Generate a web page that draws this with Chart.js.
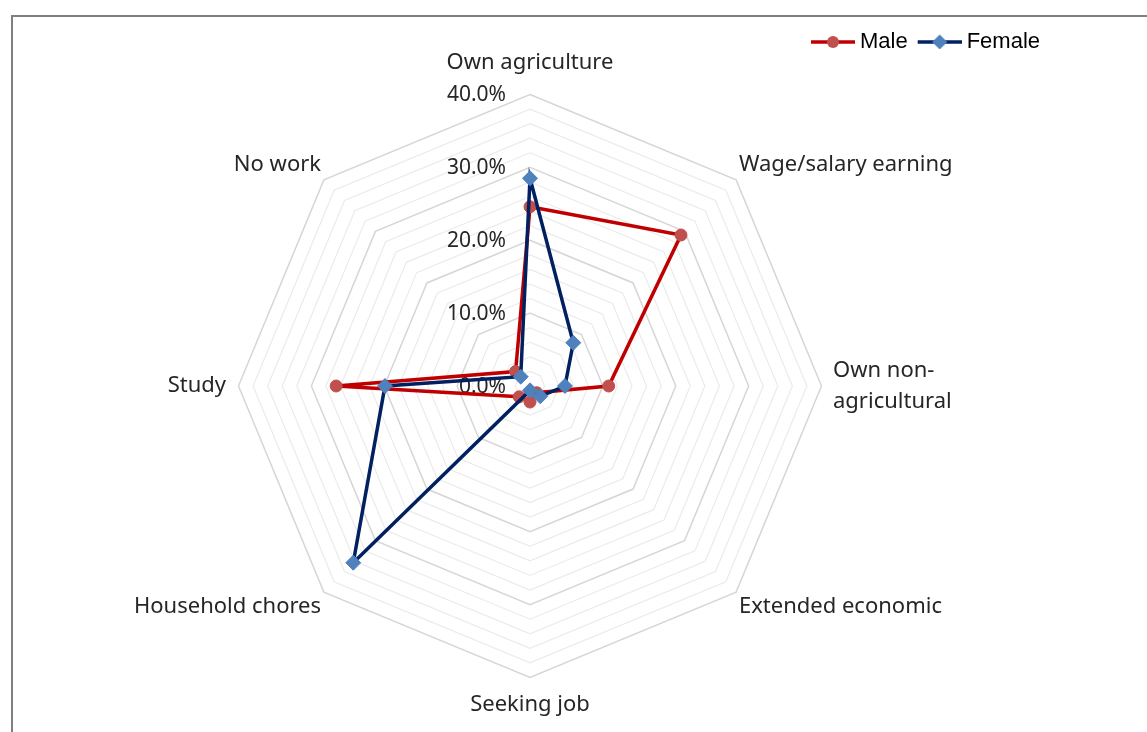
<!DOCTYPE html>
<html>
<head>
<meta charset="utf-8">
<script src="https://cdn.jsdelivr.net/npm/chart.js@4.4.1/dist/chart.umd.min.js"></script>
<style>
    body { margin: 0; background: #fff; }
    #frame { position: absolute; left: 11px; top: 15px; width: 1200px; height: 800px; border: 2px solid #7f7f7f; }
    #wrap { position: absolute; left: 10px; top: 21px; width: 1040px; height: 698px; }
</style>
</head>
<body>
<div id="frame"></div>
<div id="wrap"><canvas id="myChart"></canvas></div>
<script>
// activity shares by sex, in percent
const categories = ['Own agriculture', 'Wage/salary earning', ['Own non-', 'agricultural'], 'Extended economic',
    'Seeking job', 'Household chores', 'Study', 'No work'];
const male = [24.6, 29.3, 10.8, 1.3, 2.2, 2.1, 26.6, 2.8];
const female = [28.5, 8.4, 4.8, 2.0, 0.6, 34.3, 19.9, 1.8];
const tickLabels = [0, 10, 20, 30, 40];

// distance of each category label from the outer ring
const labelPad = [19.5, 4, 11.5, 4, 15.5, 4, 12.5, 4];

const labelFont = '"Noto Sans", sans-serif';
const textColor = '#262626';

// little line + marker pictures for the legend
function legendMarker(lineColor, fillColor, shape) {
    let c = document.createElement('canvas');
    c.width = 50;
    c.height = 18;
    let g = c.getContext('2d');
    g.strokeStyle = lineColor;
    g.lineWidth = 3.5;
    g.beginPath();
    g.moveTo(6, 9);
    g.lineTo(50, 9);
    g.stroke();
    g.fillStyle = fillColor;
    g.beginPath();
    if (shape == 'circle') {
        g.arc(28, 9, 6, 0, Math.PI * 2);
    } else {
        g.moveTo(28, 1.5);
        g.lineTo(35.5, 9);
        g.lineTo(28, 16.5);
        g.lineTo(20.5, 9);
        g.closePath();
    }
    g.fill();
    return c;
}
const markers = [
    legendMarker('#c00000', '#c0504d', 'circle'),
    legendMarker('#002060', '#4f81bd', 'diamond')
];

// percent labels left of the vertical axis, under the lines
const tickLabelPlugin = {
    id: 'tickLabels',
    beforeDatasetsDraw(chart) {
        const scale = chart.scales.r;
        const ctx = chart.ctx;
        ctx.save();
        ctx.font = '21px ' + labelFont;
        ctx.fillStyle = textColor;
        ctx.textAlign = 'right';
        ctx.textBaseline = 'middle';
        tickLabels.forEach(v => {
            const d = scale.getDistanceFromCenterForValue(v);
            ctx.fillText(v.toFixed(1) + '%', scale.xCenter - 24, scale.yCenter - d + 1);
        });
        ctx.restore();
    }
};

const isMajor = c => c.tick && c.tick.value % 10 === 0;

const ctx = document.getElementById('myChart').getContext('2d');
const myChart = new Chart(ctx, {
    type: 'radar',
    data: {
        labels: categories,
        datasets: [
            {
                label: 'Male',
                data: male,
                borderColor: '#c00000',
                backgroundColor: 'transparent',
                borderWidth: 3.5,
                fill: false,
                pointStyle: 'circle',
                pointRadius: 6,
                pointBackgroundColor: '#c0504d',
                pointBorderColor: '#c0504d',
                pointBorderWidth: 1,
                order: 1
            },
            {
                label: 'Female',
                data: female,
                borderColor: '#002060',
                backgroundColor: 'transparent',
                borderWidth: 3.5,
                fill: false,
                pointStyle: 'rectRot',
                pointRadius: 7.5,
                pointBackgroundColor: '#4f81bd',
                pointBorderColor: '#4f81bd',
                pointBorderWidth: 1,
                order: 0
            }
        ]
    },
    options: {
        responsive: true,
        maintainAspectRatio: false,
        animation: false,
        layout: { padding: 0 },
        plugins: {
            legend: {
                position: 'top',
                align: 'end',
                maxHeight: 28,
                labels: {
                    usePointStyle: true,
                    pointStyleWidth: 38,
                    padding: 10,
                    color: '#000',
                    font: { family: '"Liberation Sans", Arial, sans-serif', size: 22 },
                    sort: (a, b) => a.datasetIndex - b.datasetIndex,
                    generateLabels: chart => Chart.defaults.plugins.legend.labels.generateLabels(chart)
                        .map(item => { item.pointStyle = markers[item.datasetIndex]; return item; })
                }
            },
            tooltip: { enabled: false }
        },
        scales: {
            r: {
                min: 0,
                max: 40,
                ticks: { stepSize: 2, display: false },
                angleLines: { display: false },
                grid: {
                    color: c => isMajor(c) ? '#d6d6d6' : '#ebebeb',
                    lineWidth: c => isMajor(c) ? 1.5 : 1.2
                },
                pointLabels: {
                    color: textColor,
                    padding: c => labelPad[c.index],
                    font: c => ({ family: labelFont, size: 22, lineHeight: c.index === 2 ? '31px' : '24px' })
                }
            }
        }
    },
    plugins: [tickLabelPlugin]
});
</script>
</body>
</html>
